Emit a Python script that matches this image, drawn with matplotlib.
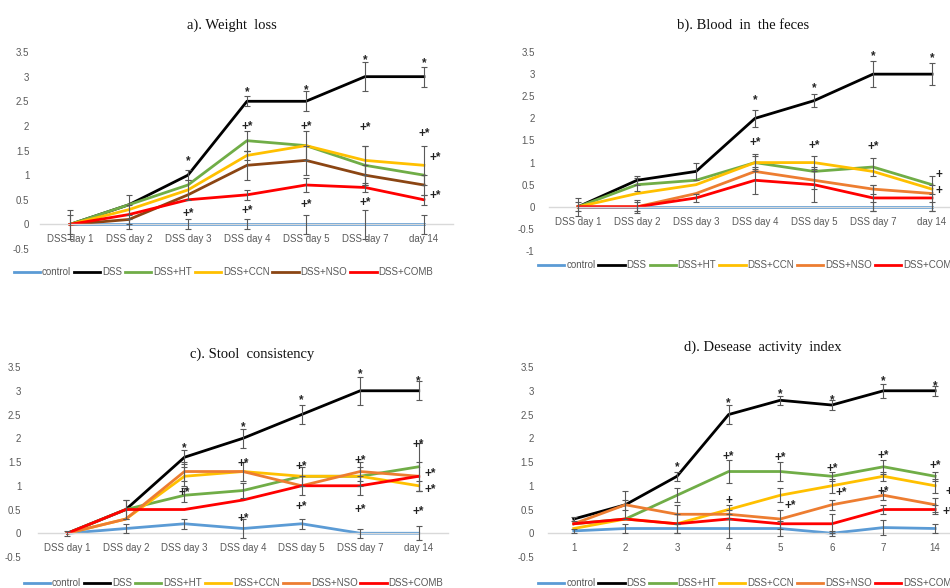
import matplotlib.pyplot as plt
import numpy as np

plt.rcParams['font.family'] = ['Liberation Sans', 'DejaVu Sans']

groups = ['control', 'DSS', 'DSS+HT', 'DSS+CCN', 'DSS+NSO', 'DSS+COMB']
days = ['DSS day 1', 'DSS day 2', 'DSS day 3', 'DSS day 4', 'DSS day 5', 'DSS day 7', 'day 14']
dai_days = ['1', '2', '3', '4', '5', '6', '7', '14']

# a) weight loss score
weight_mean = {
    'control':  [0, 0, 0, 0, 0, 0, 0],
    'DSS':      [0, 0.4, 1.0, 2.5, 2.5, 3.0, 3.0],
    'DSS+HT':   [0, 0.4, 0.8, 1.7, 1.6, 1.2, 1.0],
    'DSS+CCN':  [0, 0.3, 0.7, 1.4, 1.6, 1.3, 1.2],
    'DSS+NSO':  [0, 0.1, 0.6, 1.2, 1.3, 1.0, 0.8],
    'DSS+COMB': [0, 0.2, 0.5, 0.6, 0.8, 0.75, 0.5],
}
weight_err = {
    'control':  [0.3, 0.1, 0.1, 0.1, 0.2, 0.3, 0.2],
    'DSS':      [0, 0.2, 0.1, 0.1, 0.2, 0.3, 0.2],
    'DSS+HT':   [0.2, 0, 0, 0.2, 0.3, 0.4, 0],
    'DSS+CCN':  [0, 0, 0.2, 0.1, 0, 0.3, 0.4],
    'DSS+NSO':  [0, 0, 0, 0.3, 0.3, 0.2, 0.2],
    'DSS+COMB': [0, 0.2, 0, 0.1, 0.15, 0.1, 0.1],
}
weight_marks = [
    (2, 1.35, '*'), (3, 2.75, '*'), (4, 2.8, '*'), (5, 3.4, '*'), (6, 3.35, '*'),
    (3, 2.05, '+*'), (4, 2.05, '+*'), (5, 2.03, '+*'), (6, 1.9, '+*'), (6.2, 1.42, '+*'),
    (2, 0.29, '+*'), (3, 0.34, '+*'), (4, 0.47, '+*'), (5, 0.5, '+*'), (6.2, 0.64, '+*'),
]

# b) blood in the feces score
blood_mean = {
    'control':  [0, 0, 0, 0, 0, 0, 0],
    'DSS':      [0, 0.6, 0.8, 2.0, 2.4, 3.0, 3.0],
    'DSS+HT':   [0, 0.5, 0.6, 1.0, 0.8, 0.9, 0.5],
    'DSS+CCN':  [0, 0.3, 0.5, 1.0, 1.0, 0.8, 0.4],
    'DSS+NSO':  [0, 0, 0.3, 0.8, 0.6, 0.4, 0.3],
    'DSS+COMB': [0, 0, 0.2, 0.6, 0.5, 0.2, 0.2],
}
blood_err = {
    'control':  [0.2, 0.1, 0, 0, 0, 0.1, 0.1],
    'DSS':      [0, 0.1, 0.2, 0.2, 0.15, 0.3, 0.25],
    'DSS+HT':   [0.1, 0.15, 0, 0.2, 0, 0.2, 0.2],
    'DSS+CCN':  [0, 0, 0, 0.15, 0.15, 0, 0],
    'DSS+NSO':  [0, 0, 0, 0, 0.2, 0.1, 0],
    'DSS+COMB': [0, 0.15, 0.1, 0.3, 0.4, 0.3, 0.3],
}
blood_marks = [
    (3, 2.49, '*'), (4, 2.75, '*'), (5, 3.47, '*'), (6, 3.44, '*'),
    (3, 1.52, '+*'), (4, 1.44, '+*'), (5, 1.43, '+*'),
    (6.12, 0.8, '+'), (6.12, 0.43, '+'),
]

# c) stool consistency score
stool_mean = {
    'control':  [0, 0.1, 0.2, 0.1, 0.2, 0, 0],
    'DSS':      [0, 0.5, 1.6, 2.0, 2.5, 3.0, 3.0],
    'DSS+HT':   [0, 0.5, 0.8, 0.9, 1.2, 1.2, 1.4],
    'DSS+CCN':  [0, 0.3, 1.2, 1.3, 1.2, 1.2, 1.0],
    'DSS+NSO':  [0, 0.3, 1.3, 1.3, 1.0, 1.3, 1.2],
    'DSS+COMB': [0, 0.5, 0.5, 0.7, 1.0, 1.0, 1.2],
}
stool_err = {
    'control':  [0.05, 0.1, 0.1, 0.2, 0.1, 0.1, 0.15],
    'DSS':      [0, 0.2, 0.15, 0.2, 0.2, 0.3, 0.2],
    'DSS+HT':   [0, 0, 0.15, 0.15, 0.2, 0.2, 0.5],
    'DSS+CCN':  [0, 0, 0.2, 0, 0, 0, 0.1],
    'DSS+NSO':  [0, 0, 0.2, 0.2, 0, 0.2, 0],
    'DSS+COMB': [0, 0.2, 0, 0, 0.2, 0.2, 0.3],
}
stool_marks = [
    (2, 1.87, '*'), (3, 2.31, '*'), (4, 2.88, '*'), (5, 3.41, '*'), (6, 3.27, '*'),
    (2, 0.91, '+*'), (3, 1.52, '+*'), (3, 0.36, '+*'), (4, 1.47, '+*'), (4, 0.62, '+*'),
    (5, 1.6, '+*'), (5, 0.57, '+*'), (6, 1.92, '+*'), (6.2, 1.31, '+*'), (6.2, 0.98, '+*'),
    (6, 0.52, '+*'),
]

# d) disease activity index
dai_mean = {
    'control':  [0.05, 0.1, 0.1, 0.1, 0.1, 0, 0.12, 0.1],
    'DSS':      [0.3, 0.6, 1.2, 2.5, 2.8, 2.7, 3.0, 3.0],
    'DSS+HT':   [0.2, 0.3, 0.8, 1.3, 1.3, 1.2, 1.4, 1.2],
    'DSS+CCN':  [0.1, 0.3, 0.2, 0.5, 0.8, 1.0, 1.2, 1.0],
    'DSS+NSO':  [0.2, 0.6, 0.4, 0.4, 0.3, 0.6, 0.8, 0.6],
    'DSS+COMB': [0.2, 0.3, 0.2, 0.3, 0.2, 0.2, 0.5, 0.5],
}
dai_err = {
    'control':  [0.05, 0.1, 0.1, 0.2, 0.15, 0.05, 0.15, 0.1],
    'DSS':      [0.05, 0.3, 0.1, 0.2, 0.1, 0.1, 0.15, 0.1],
    'DSS+HT':   [0, 0, 0.15, 0.25, 0.2, 0.1, 0.15, 0.1],
    'DSS+CCN':  [0, 0, 0, 0.1, 0.15, 0.15, 0.1, 0.15],
    'DSS+NSO':  [0, 0.1, 0.2, 0.1, 0.2, 0.1, 0.1, 0.15],
    'DSS+COMB': [0, 0, 0.2, 0, 0, 0.2, 0.1, 0.1],
}
dai_marks = [
    (2, 1.47, '*'), (3, 2.8, '*'), (4, 2.99, '*'), (5, 2.87, '*'), (6, 3.27, '*'), (7, 3.16, '*'),
    (3, 1.68, '+*'), (4, 1.66, '+*'), (5, 1.43, '+*'), (6, 1.69, '+*'), (7, 1.49, '+*'),
    (4.2, 0.64, '+*'), (5.19, 0.92, '+*'), (6.0, 0.94, '+*'), (7.26, 0.52, '+*'),
    (3, 0.75, '+'), (7.26, 0.94, '+'),
]

colors = {
    'control': '#5B9BD5',
    'DSS': '#000000',
    'DSS+HT': '#70AD47',
    'DSS+CCN': '#FFC000',
    'DSS+NSO': '#ED7D31',
    'DSS+COMB': '#FF0000',
}
GREY = '#595959'


def draw_panel(ax, cats, means, errs, marks, ylim, title, title_xy,
               leg_xy, leg_loc, nso_color=None, ypad=7):
    x = np.arange(len(cats))
    handles = []
    for g in groups:
        c = colors[g]
        if g == 'DSS+NSO' and nso_color:
            c = nso_color
        y = np.array(means[g], dtype=float)
        e = np.array(errs[g], dtype=float)
        line, = ax.plot(x, y, color=c, lw=2.0, label=g, zorder=2,
                        solid_joinstyle='round')
        handles.append(line)
        keep = e > 0
        if keep.any():
            ax.errorbar(x[keep], y[keep], yerr=e[keep], fmt='none',
                        ecolor=GREY, elinewidth=0.8, capsize=2.5,
                        capthick=0.8, zorder=3)

    for mx, my, txt in marks:
        ax.text(mx, my - 0.07, txt, ha='center', va='center', fontsize=8.5,
                fontweight='bold', color='#222222', zorder=4)

    ax.set_xlim(-0.5, len(cats) - 0.5)
    ax.set_ylim(*ylim)
    ax.set_xticks(x)
    ax.set_xticklabels(cats)
    ticks = np.arange(ylim[0], ylim[1] + 0.01, 0.5)
    ax.set_yticks(ticks)
    ax.set_yticklabels([f'{t:g}' for t in ticks])
    ax.tick_params(axis='both', length=0, labelsize=7, labelcolor=GREY)
    ax.tick_params(axis='x', pad=7)
    ax.tick_params(axis='y', pad=ypad)
    for s in ['top', 'right', 'left']:
        ax.spines[s].set_visible(False)
    ax.spines['bottom'].set_position(('data', 0))
    ax.spines['bottom'].set_color('#D9D9D9')
    ax.spines['bottom'].set_linewidth(1.0)
    ax.set_facecolor('none')

    ax.text(title_xy[0], title_xy[1], title, transform=ax.transAxes,
            ha='center', va='center', fontsize=10.5,
            family='Liberation Serif', color='#111111')

    ax.legend(handles=handles, loc=leg_loc, bbox_to_anchor=leg_xy,
              ncol=6, frameon=False, fontsize=7, labelcolor=GREY,
              handlelength=2.7, handletextpad=0.2, columnspacing=0.3,
              borderpad=0, borderaxespad=0)


fig = plt.figure(figsize=(9.5, 5.88), dpi=100)

ax_a = fig.add_axes([0.0426, 0.5765, 0.4347, 0.3350])
draw_panel(ax_a, days, weight_mean, weight_err, weight_marks, (-0.5, 3.5),
           'a). Weight  loss', (0.464, 1.137), (0.443, -0.117), 'center',
           nso_color='#8B4513', ypad=8)

ax_b = fig.add_axes([0.5774, 0.5731, 0.4347, 0.3384])
draw_panel(ax_b, days, blood_mean, blood_err, blood_marks, (-1, 3.5),
           'b). Blood  in  the feces', (0.471, 1.136), (-0.025, -0.07),
           'center left', ypad=10)

ax_c = fig.add_axes([0.040, 0.0527, 0.4316, 0.3231])
draw_panel(ax_c, days, stool_mean, stool_err, stool_marks, (-0.5, 3.5),
           'c). Stool  consistency', (0.522, 1.068), (0.477, -0.137), 'center',
           ypad=12)

ax_d = fig.add_axes([0.5768, 0.0527, 0.4347, 0.3231])
draw_panel(ax_d, dai_days, dai_mean, dai_err, dai_marks, (-0.5, 3.5),
           'd). Desease  activity  index', (0.52, 1.105), (-0.024, -0.137),
           'center left', ypad=10)

fig.savefig('out.png', dpi=100)
